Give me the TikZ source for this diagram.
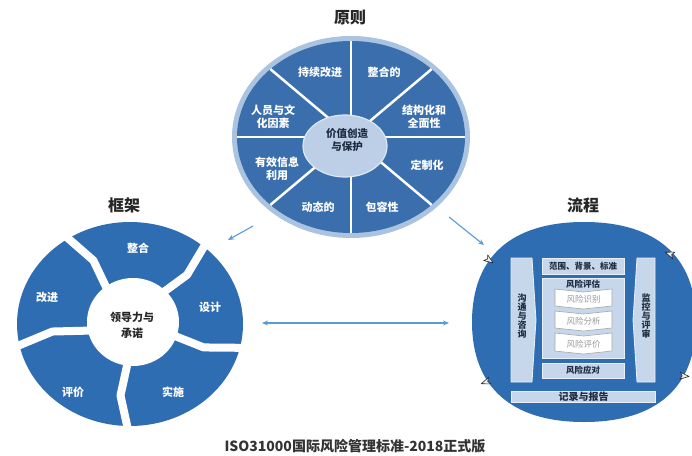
\documentclass[tikz,border=0pt]{standalone}
\usepackage{fontspec}
\setmainfont{Noto Sans CJK SC}
\usetikzlibrary{arrows.meta}
\definecolor{wheelblue}{HTML}{3A6EAD}
\definecolor{ringblue}{HTML}{A9C3E0}
\definecolor{hubblue}{HTML}{BCCFE6}
\definecolor{fwblue}{HTML}{2F6DB3}
\definecolor{boxblue}{HTML}{C7D7EB}
\definecolor{arrowblue}{HTML}{5B9BD5}
\definecolor{navy}{HTML}{1E2B40}
\begin{document}
\begin{tikzpicture}[x=1pt,y=-1pt,
  segtxt/.style={text=white, font=\bfseries\fontsize{11}{13}\selectfont, align=center, inner sep=0},
  hubtxt/.style={text=navy, font=\bfseries\fontsize{10.5}{12.5}\selectfont, align=center, inner sep=0},
  titletxt/.style={font=\bfseries\fontsize{16}{18}\selectfont, text=black!85, inner sep=0},
  procbox/.style={fill=boxblue, draw=white!60!boxblue, line width=0.8pt},
  chevbox/.style={fill=white, draw=black!35, line width=0.6pt},
  proctxt/.style={text=navy, font=\bfseries\fontsize{8.5}{9}\selectfont, align=center, inner sep=0},
  chevtxt/.style={text=black!40, font=\fontsize{8.5}{9}\selectfont, inner sep=0},
  conn/.style={draw=arrowblue, line width=1.1pt},
  tip/.style={-{Stealth[length=6pt,width=5pt]}},
  mk/.style={draw=black!85, fill=black!6, line width=0.6pt, line join=round}
]
\useasboundingbox (0,0) rectangle (692,455);
\clip (0,0) rectangle (692,455);
\fill[white] (0,0) rectangle (692,455);

% ---------- top wheel: principles ----------
\begin{scope}[shift={(351,137)}]
  \fill[ringblue] (0,0) ellipse [x radius=119pt, y radius=101pt];
  \fill[wheelblue] (0,0) ellipse [x radius=114pt, y radius=96pt];
  \foreach \a in {0,45,...,315}
    \draw[white, line width=2.5pt] (0,0) -- (\a:114pt and 96pt);
\end{scope}
\fill[hubblue, draw=white!50!hubblue, line width=1.2pt] (345,146) ellipse [x radius=42pt, y radius=31pt];

\node[titletxt] (tP) at (350,18) {原则};
\node[segtxt] (p1) at (320,72) {持续改进};
\node[segtxt] (p2) at (384,72) {整合的};
\node[segtxt] (p3) at (273,117) {人员与文\\化因素};
\node[segtxt] (p4) at (424,117) {结构化和\\全面性};
\node[segtxt] (p5) at (277,169) {有效信息\\利用};
\node[segtxt] (p6) at (427,165) {定制化};
\node[segtxt] (p7) at (318,207) {动态的};
\node[segtxt] (p8) at (382,207) {包容性};
\node[hubtxt] (pc) at (347,140) {价值创造\\与保护};

% ---------- left circle: framework ----------
\begin{scope}[shift={(130,324)}]
  \fill[fwblue] (0,0) ellipse [x radius=113pt, y radius=102pt];
  \fill[white] (3pt,2pt) ellipse [x radius=46pt, y radius=44pt];
  \foreach \a [evaluate=\a as \b using \a-7] in {50,125,193,270,348}
    \draw[white, line width=8pt, line join=round] (\a:30pt and 28pt) -- (\b:78pt and 72pt) -- (\a:125pt and 115pt);
\end{scope}
\node[titletxt] (tF) at (124,205) {框架};
\node[segtxt] (f1) at (138,248) {整合};
\node[segtxt] (f2) at (210,307) {设计};
\node[segtxt] (f3) at (173,392) {实施};
\node[segtxt] (f4) at (73,392) {评价};
\node[segtxt] (f5) at (47,297) {改进};
\node[hubtxt, text=black!85, font=\bfseries\fontsize{11}{16}\selectfont] (fc) at (132,325) {领导力与\\承诺};

% ---------- right circle: process ----------
\fill[fwblue] (472,322) .. controls (472,257) and (511.2,222) .. (584,222)
  .. controls (656.8,222) and (696,257) .. (696,322)
  .. controls (696,387) and (656.8,422) .. (584,422)
  .. controls (511.2,422) and (472,387) .. (472,322) -- cycle;
\node[titletxt] (tR) at (583,205) {流程};

\draw[procbox] (511,258) -- (532,258) -- (536,320) -- (532,382) -- (511,382) -- cycle;
\draw[procbox] (637,258) -- (655,258) -- (655,382) -- (637,382) -- (633,320) -- cycle;
\node[proctxt, font=\bfseries\fontsize{9}{9.2}\selectfont] (r1) at (522,316) {沟\\通\\与\\咨\\询};
\node[proctxt, font=\bfseries\fontsize{9}{9.2}\selectfont] (r2) at (646,316) {监\\控\\与\\评\\审};

\draw[procbox] (542,258) rectangle (624,274);
\node[proctxt] (r3) at (583,266) {范围、背景、标准};

\draw[procbox] (542,278) rectangle (624,358);
\node[proctxt] (r4) at (583,284.5) {风险评估};

\foreach \t/\bb/\txt/\nm in {289/309/风险识别/c1, 311/331/风险分析/c2, 333/354/风险评价/c3}{
  \draw[chevbox] (555,\t) -- (583.5,\t+3) -- (612,\t) -- (612,\bb-3) -- (583.5,\bb) -- (555,\bb-3) -- cycle;
  \node[chevtxt] (\nm) at (583.5,{(\t+\bb)/2+0.5}) {\txt};
}

\draw[procbox] (542,363) rectangle (624,378);
\node[proctxt] (r5) at (583,370.5) {风险应对};

\draw[procbox] (511,391) rectangle (655,402);
\node[proctxt, font=\bfseries\fontsize{10}{10}\selectfont] (r6) at (583.5,396.5) {记录与报告};

% cycle markers on the rim
\draw[mk, shift={(489,260)}, rotate=-35] (5pt,0pt) -- (-4pt,3.5pt) -- (-1.8pt,0pt) -- (-4pt,-3.5pt) -- cycle;
\draw[mk, shift={(670,254)}, rotate=160] (5pt,0pt) -- (-4pt,3.5pt) -- (-1.8pt,0pt) -- (-4pt,-3.5pt) -- cycle;
\draw[mk, shift={(684,376)}, rotate=-5] (5pt,0pt) -- (-4pt,3.5pt) -- (-1.8pt,0pt) -- (-4pt,-3.5pt) -- cycle;
\draw[mk, shift={(486,382)}, rotate=200] (5pt,0pt) -- (-4pt,3.5pt) -- (-1.8pt,0pt) -- (-4pt,-3.5pt) -- cycle;

% ---------- connectors ----------
\coordinate (a1s) at (253,226);
\coordinate (a1e) at (228,240);
\coordinate (a2s) at (449,217);
\coordinate (a2e) at (484,245);
\coordinate (a3s) at (262,323);
\coordinate (a3e) at (449,323);
\draw[conn, tip] (a1s) -- (a1e);
\draw[conn, tip] (a2s) -- (a2e);
\draw[conn, {Stealth[length=6pt,width=5pt]}-{Stealth[length=6pt,width=5pt]}] (a3s) -- (a3e);

% ---------- caption ----------
\node[text=black!80, font=\bfseries\fontsize{14}{16}\selectfont, inner sep=0] (cap) at (355,446) {ISO31000国际风险管理标准-2018正式版};
\end{tikzpicture}
\end{document}
